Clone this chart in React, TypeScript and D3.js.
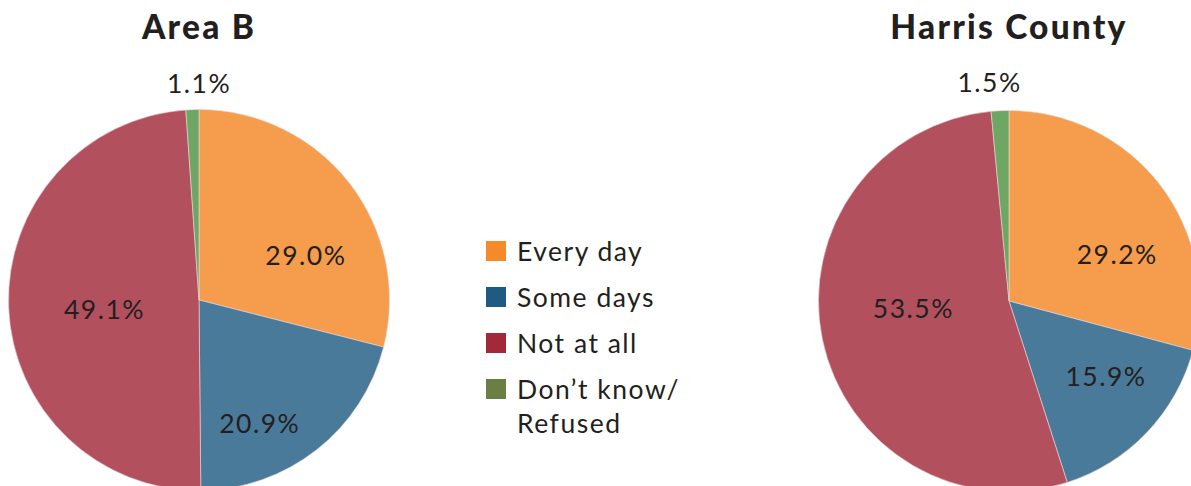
import React from "react";
import * as d3 from "d3";

const categories = ["Every day", "Some days", "Not at all", "Don\u2019t know/Refused"];
const chartTitles = ["Area B", "Harris County"];
const areaBValues = [29.0, 20.9, 49.1, 1.1];
const harrisValues = [29.2, 15.9, 53.5, 1.5];
const legendLines = [["Every day"], ["Some days"], ["Not at all"], ["Don\u2019t know/", "Refused"]];

const sliceColors = ["#F59C4D", "#4A7A9A", "#B3505E", "#6EA664"];
const legendColors = ["#F58A2A", "#1F5A82", "#A3293A", "#6B7F45"];

const W = 1191;
const H = 486;
const R = 190.5;
const FONT = "Lato, 'Open Sans', sans-serif";
const TEXT = "#231F20";

// label placement (angle nudge in degrees, distance from center) per chart & category
const labelLayout = [
  [
    { da: 15, r: 116 },
    { da: 12, r: 138 },
    { da: -3.5, r: 95 },
    { da: 2, r: 217 },
  ],
  [
    { da: 14, r: 118 },
    { da: -5.7, r: 123 },
    { da: 7, r: 96 },
    { da: -2.4, r: 219 },
  ],
];

const centers = [
  { x: 199, y: 300 },
  { x: 1009, y: 301 },
];

function Pie({ values, title, cx, cy, layout }: any) {
  const pie = d3.pie<number>().sort(null).value((d) => d);
  const arcs = pie(values);
  const arc = d3.arc<d3.PieArcDatum<number>>().innerRadius(0).outerRadius(R);
  return (
    <g transform={`translate(${cx},${cy})`}>
      <text
        x={0}
        y={39 - cy}
        textAnchor="middle"
        fontFamily={FONT}
        fontWeight={900}
        fontSize={33.5}
        letterSpacing={2.2}
        fill={TEXT}
      >
        {title}
      </text>
      {arcs.map((a, i) => (
        <path key={i} d={arc(a) as string} fill={sliceColors[i]} stroke="#e8d8d8" strokeWidth={0.6} />
      ))}
      {arcs.map((a, i) => {
        const mid = (a.startAngle + a.endAngle) / 2 + (layout[i].da * Math.PI) / 180;
        const x = Math.sin(mid) * layout[i].r;
        const y = -Math.cos(mid) * layout[i].r;
        return (
          <text
            key={"l" + i}
            x={x}
            y={y}
            dy="0.36em"
            textAnchor="middle"
            fontFamily={FONT}
            fontSize={26.5}
            letterSpacing={1.5}
            fill={TEXT}
          >
            {d3.format(".1f")(values[i]) + "%"}
          </text>
        );
      })}
    </g>
  );
}

export default function App() {
  const legendY = d3.scaleBand<number>().domain(d3.range(categories.length)).range([241, 425]);
  return (
    <svg
      width={W}
      height={H}
      style={{ position: "absolute", left: 0, top: 0, background: "#fff" }}
    >
      <Pie values={areaBValues} title={chartTitles[0]} cx={centers[0].x} cy={centers[0].y} layout={labelLayout[0]} />
      <Pie values={harrisValues} title={chartTitles[1]} cx={centers[1].x} cy={centers[1].y} layout={labelLayout[1]} />
      <g>
        {categories.map((c, i) => {
          const y0 = legendY(i) as number;
          return (
            <g key={c}>
              <rect x={486} y={y0} width={20} height={20} fill={legendColors[i]} />
              <text
                x={517}
                y={y0 + 20}
                fontFamily={FONT}
                fontSize={26.5}
                letterSpacing={1.5}
                fill={TEXT}
              >
                {legendLines[i].map((line, j) => (
                  <tspan key={j} x={517} dy={j === 0 ? 0 : 34}>
                    {line}
                  </tspan>
                ))}
              </text>
            </g>
          );
        })}
      </g>
    </svg>
  );
}
